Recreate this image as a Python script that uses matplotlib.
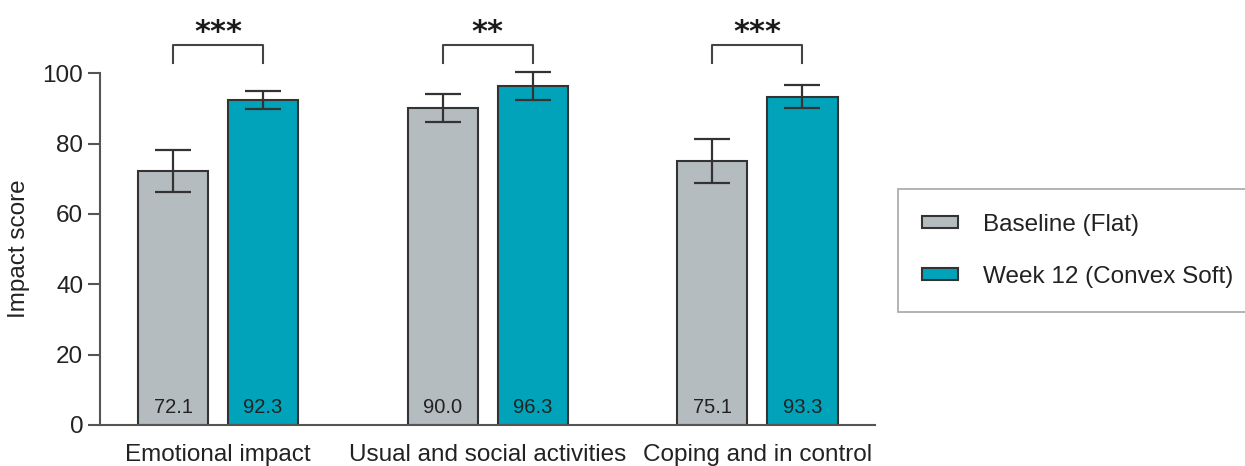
import matplotlib
matplotlib.use('Agg')
import matplotlib.pyplot as plt
import numpy as np

plt.rcParams['font.family'] = ['Liberation Sans', 'DejaVu Sans']

categories = ['Emotional impact', 'Usual and social activities', 'Coping and in control']
baseline = [72.1, 90.0, 75.1]
baseline_err = [6.0, 4.0, 6.2]
week12 = [92.3, 96.3, 93.3]
week12_err = [2.6, 4.0, 3.3]
stars = ['***', '**', '***']
series_names = ['Baseline (Flat)', 'Week 12 (Convex Soft)']

grey = '#b5bcbf'
teal = '#00a3b9'
edge = '#333333'

fig = plt.figure(figsize=(12.45, 4.66), dpi=100)
ax = fig.add_axes([0.0803, 0.088, 0.6225, 0.755])

x = np.arange(len(categories))
w = 0.26
off = 0.167
err_kw = dict(ecolor=edge, elinewidth=1.6, capsize=13, capthick=1.6)
b1 = ax.bar(x - off, baseline, w, yerr=baseline_err, color=grey, edgecolor=edge,
            linewidth=1.5, error_kw=err_kw, label=series_names[0])
b2 = ax.bar(x + off, week12, w, yerr=week12_err, color=teal, edgecolor=edge,
            linewidth=1.5, error_kw=err_kw, label=series_names[1])
# caps can sit above the 100 line
for cont in (b1, b2):
    for art in cont.errorbar.lines:
        for a in (art if isinstance(art, tuple) else [art]):
            if a is not None:
                a.set_clip_on(False)

# values printed inside the bars near the base
for xs, vals in [(x - off, baseline), (x + off, week12)]:
    for xi, v in zip(xs, vals):
        ax.text(xi, 5.1, f'{v:.1f}', ha='center', va='center', fontsize=14.5, color='#222222')

# significance brackets above each pair
for xi, s in zip(x, stars):
    ax.plot([xi - off, xi - off, xi + off, xi + off], [102.8, 108, 108, 102.8],
            color='#444444', lw=1.5, clip_on=False)
    ax.text(xi, 111.5, s, ha='center', va='center', fontsize=22, family='DejaVu Sans',
            fontweight='bold', color='#1a1a1a', clip_on=False)

ax.set_xlim(-0.438, 2.436)
ax.set_ylim(0, 100)
ax.set_yticks([0, 20, 40, 60, 80, 100])
ax.set_xticks(x)
ax.set_xticklabels(categories, fontsize=17.5, color='#222222')
ax.tick_params(axis='x', length=0, pad=14)
ax.tick_params(axis='y', length=9, width=1.5, color='#555555', labelsize=17.5,
               labelcolor='#222222', pad=3)
for side in ['top', 'right']:
    ax.spines[side].set_visible(False)
for side in ['left', 'bottom']:
    ax.spines[side].set_color('#555555')
    ax.spines[side].set_linewidth(1.5)

ax.set_ylabel('Impact score', fontsize=17.5, color='#222222')
ax.yaxis.set_label_coords(-0.09, 0.5)

leg = fig.legend(handles=[b1, b2], labels=series_names, loc='upper left',
                 bbox_to_anchor=(0.721, 0.594), fontsize=17.5, frameon=True,
                 fancybox=False, borderpad=1.0, handlelength=1.5, handleheight=0.4,
                 handletextpad=1.0, labelspacing=1.25, borderaxespad=0)
leg.get_frame().set_edgecolor('#999999')
leg.get_frame().set_linewidth(1.3)
for t in leg.get_texts():
    t.set_color('#222222')

fig.savefig('out.png', dpi=100)
